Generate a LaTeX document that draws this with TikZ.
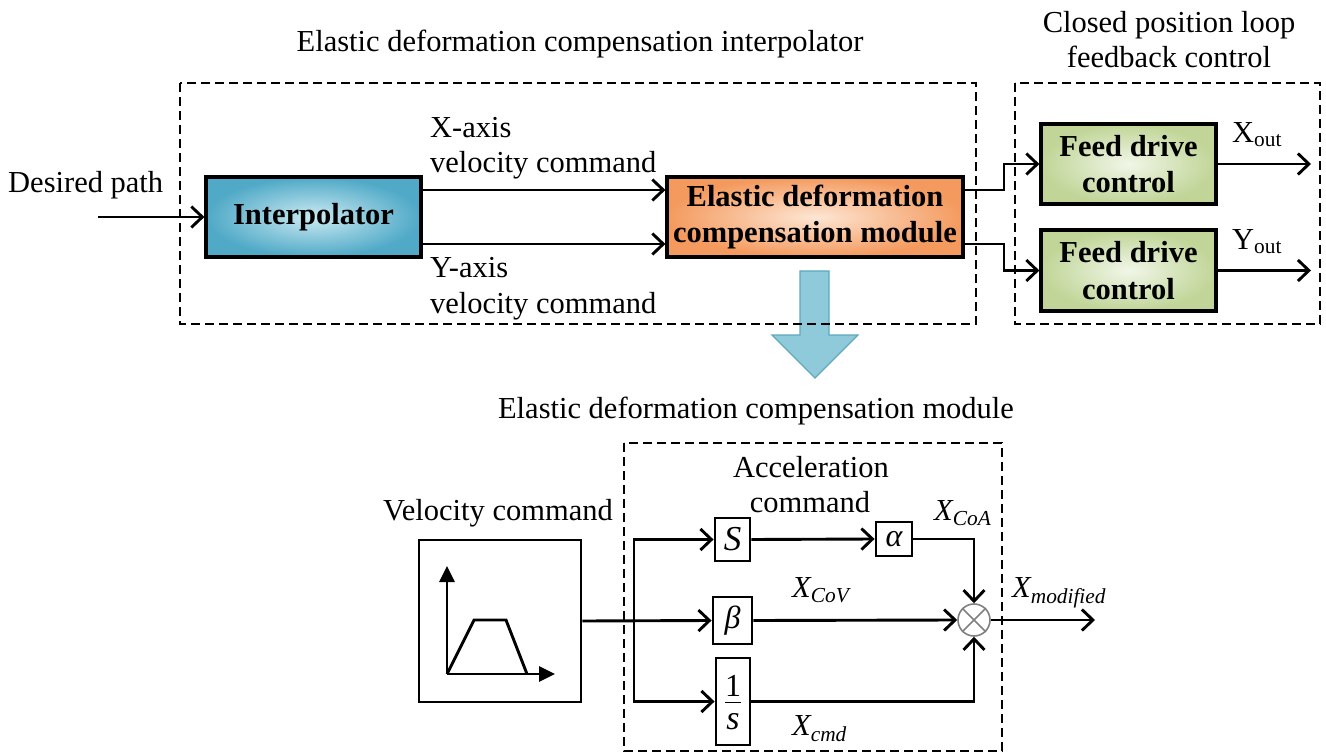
\documentclass[tikz,border=0pt]{standalone}
\usepackage{fontspec}
\setmainfont{Liberation Serif}
\usetikzlibrary{arrows.meta,calc}

\definecolor{blueedge}{HTML}{4FA9C7}
\definecolor{bluemid}{HTML}{CBEAF2}
\definecolor{orangeedge}{HTML}{F49A5E}
\definecolor{orangemid}{HTML}{FDE6D4}
\definecolor{greenedge}{HTML}{C0D597}
\definecolor{greenmid}{HTML}{F1F6E8}
\definecolor{bigarrow}{HTML}{8FCADB}
\definecolor{bigarrowedge}{HTML}{5FA8BE}
\definecolor{sumgray}{HTML}{808080}

\begin{document}
\begin{tikzpicture}[x=1pt,y=-1pt,
  lbl/.style={font=\fontsize{30.5}{35}\selectfont, inner sep=0pt},
  blk/.style={draw, line width=3.2pt, inner sep=0pt, align=center,
    font=\fontsize{30.5}{36.5}\selectfont\bfseries},
  sbox/.style={draw, line width=2.9pt, inner sep=0pt},
  grp/.style={draw, dash pattern=on 9pt off 5pt, line width=2.7pt},
  arr/.style={line width=2.9pt, -{Straight Barb[length=11pt,width=21pt]}},
  tri/.style={line width=2.9pt, -{Triangle[length=16pt,width=15pt]}},
  wire/.style={line width=2.9pt}
]
\useasboundingbox (0,0) rectangle (1326,754);

% ---------- upper diagram ----------
\node[lbl, anchor=base] (t1) at (580,52) {Elastic deformation compensation interpolator};
\node[lbl, anchor=base] (t2a) at (1169,33) {Closed position loop};
\node[lbl, anchor=base] (t2b) at (1169,68) {feedback control};

% down arrow to the detailed module (drawn under the dashed frame)
\path[fill=bigarrow, draw=bigarrowedge, line width=1.2pt]
  (800,271) -- (829,271) -- (829,335) -- (858,335) -- (815,378)
  -- (772,335) -- (800,335) -- cycle;

\draw[grp] (180,83) rectangle (976,324);
\draw[grp] (1015,83) rectangle (1320,324);

\node[blk, minimum width=215pt, minimum height=80pt,
      inner color=bluemid, outer color=blueedge] (interp) at (313.5,217) {Interpolator};
\node[blk, minimum width=296pt, minimum height=80pt,
      inner color=orangemid, outer color=orangeedge] (ecm) at (815,217)
      {Elastic deformation\\compensation module};
\node[blk, minimum width=175pt, minimum height=80pt,
      inner color=greenmid, outer color=greenedge] (fdx) at (1128.5,164) {Feed drive\\control};
\node[blk, minimum width=175pt, minimum height=81pt,
      inner color=greenmid, outer color=greenedge] (fdy) at (1128.5,270.5) {Feed drive\\control};

\node[lbl, anchor=base west] (dp) at (8,193) {Desired path};
\coordinate (dpin) at (98,217);
\draw[arr] (dpin) -- (interp.west);

\node[lbl, anchor=base west] (xa1) at (430,138) {X-axis};
\node[lbl, anchor=base west] (xa2) at (430,173) {velocity command};
\node[lbl, anchor=base west] (ya1) at (430,278) {Y-axis};
\node[lbl, anchor=base west] (ya2) at (430,313) {velocity command};

\draw[arr] (interp.east |- 0,190) -- (ecm.west |- 0,190);
\draw[arr] (interp.east |- 0,244) -- (ecm.west |- 0,244);

\draw[arr] (ecm.east |- 0,190) -- (1004,190) |- (fdx.west);
\draw[arr] (ecm.east |- 0,244) -- (1004,244) |- (fdy.west);

\coordinate (xo) at (1311,164);
\coordinate (yo) at (1311,270.5);
\draw[arr] (fdx.east) -- (xo);
\draw[arr] (fdy.east) -- (yo);
\node[lbl, anchor=base west] (xol) at (1232,143) {X\textsubscript{out}};
\node[lbl, anchor=base west] (yol) at (1232,250) {Y\textsubscript{out}};

% ---------- lower diagram ----------
\node[lbl, anchor=base] (t3) at (756,418) {Elastic deformation compensation module};
\draw[grp] (624,443) rectangle (1002,751);

\node[lbl, anchor=base] (vl) at (498,520) {Velocity command};
\node[sbox, minimum width=162pt, minimum height=162pt] (vel) at (500,621) {};
\coordinate (o) at (447,674);
\draw[tri] (o) -- (447,566);
\draw[tri] (o) -- (555,674);
\draw[wire, line join=miter] (o) -- (474,620) -- (506,620) -- (527,674);

\node[lbl, anchor=base] (ac1) at (811,477) {Acceleration};
\node[lbl, anchor=base] (ac2) at (810,512) {command};

\node[sbox, minimum width=35pt, minimum height=43pt,
      font=\fontsize{35}{35}\selectfont\itshape] (bS) at (732.5,539.5) {S};
\node[sbox, minimum width=39pt, minimum height=47pt,
      font=\fontsize{32}{32}\selectfont\itshape] (bB) at (732.5,620.5) {β};
\node[sbox, minimum width=34pt, minimum height=87pt] (bI) at (733,701.5) {};
\node[inner sep=0pt, font=\fontsize{32}{32}\selectfont] (one) at (733,686) {1};
\node[inner sep=0pt, font=\fontsize{34}{34}\selectfont\itshape] (ess) at (733,722) {s};
\draw[line width=1.8pt] ($(bI.center)+(-8,1)$) -- ($(bI.center)+(8,1)$);
\node[sbox, minimum width=36pt, minimum height=34pt,
      font=\fontsize{32}{32}\selectfont\itshape] (bA) at (894,539) {α};

\node[circle, draw=sumgray, line width=1.6pt, minimum size=32pt, inner sep=0pt] (sum) at (974,620) {};
\draw[sumgray, line width=1.6pt] (sum.45) -- (sum.225) (sum.135) -- (sum.315);

\coordinate (j) at (634,620);
\draw[arr] (vel.east) -- (bB.west);
\draw[arr] (j) |- (bS.west);
\draw[arr] (j) |- (bI.west);
\draw[arr] (bS.east) -- (bA.west);
\draw[arr] (bA.east) -| (sum.north);
\draw[arr] (bB.east) -- (sum.west);
\draw[arr] (bI.east) -| (sum.south);
\coordinate (xm) at (1095,620);
\draw[arr] (sum.east) -- (xm);

\node[lbl, anchor=base west, font=\fontsize{30.5}{35}\selectfont\itshape] (lcoa) at (934,520) {X\textsubscript{CoA}};
\node[lbl, anchor=base west, font=\fontsize{30.5}{35}\selectfont\itshape] (lcov) at (792,597) {X\textsubscript{CoV}};
\node[lbl, anchor=base west, font=\fontsize{30.5}{35}\selectfont\itshape] (lcmd) at (792,735) {X\textsubscript{cmd}};
\node[lbl, anchor=base west, font=\fontsize{30.5}{35}\selectfont\itshape] (lmod) at (1012,597) {X\textsubscript{modified}};
\end{tikzpicture}
\end{document}
